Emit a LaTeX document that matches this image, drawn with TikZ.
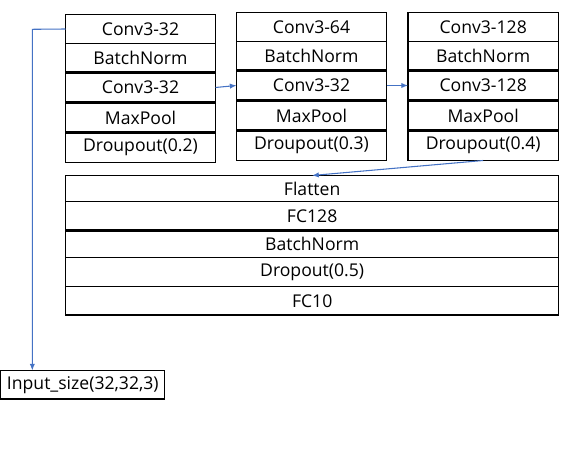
\documentclass[tikz,border=0pt]{standalone}
\usepackage{fontspec}
\setmainfont{Open Sans}
\usetikzlibrary{arrows.meta}
\definecolor{conn}{RGB}{68,114,196}
\begin{document}
\begin{tikzpicture}[x=0.75pt,y=-0.75pt,
  cell/.style={draw=black, line width=0.8pt, anchor=north west, inner sep=0pt, outer sep=0pt,
    minimum width=#1, font=\fontsize{13.2}{15}\selectfont},
  h29/.style={minimum height=21.75pt},
  h30/.style={minimum height=22.5pt},
  h26/.style={minimum height=19.5pt},
  h27/.style={minimum height=20.25pt},
  h28/.style={minimum height=21.4pt},
  thick line/.style={line width=1.6pt},
  conn line/.style={draw=conn, line width=0.8pt, -{Latex[length=5pt,width=4pt]}}]
\useasboundingbox (0,0) rectangle (576,452);
% block 1
\node[cell=112.5pt,h29] (a1) at (65.5,14.5) {Conv3-32};
\node[cell=112.5pt,h29] (a2) at (65.5,43.5) {BatchNorm};
\node[cell=112.5pt,h30] (a3) at (65.5,72.5) {Conv3-32};
\node[cell=112.5pt,h30] (a4) at (65.5,102.5) {MaxPool};
\node[cell=112.5pt,h30] (a5) at (65.5,132.5) {Droupout(0.2)};
% block 2
\node[cell=112.5pt,h29] (b1) at (236.5,12.5) {Conv3-64};
\node[cell=112.5pt,h29] (b2) at (236.5,41.5) {BatchNorm};
\node[cell=112.5pt,h30] (b3) at (236.5,70.5) {Conv3-32};
\node[cell=112.5pt,h30] (b4) at (236.5,100.5) {MaxPool};
\node[cell=112.5pt,h30] (b5) at (236.5,130.5) {Droupout(0.3)};
% block 3
\node[cell=112.75pt,h29] (c1) at (408,12.5) {Conv3-128};
\node[cell=112.75pt,h29] (c2) at (408,41.5) {BatchNorm};
\node[cell=112.75pt,h30] (c3) at (408,70.5) {Conv3-128};
\node[cell=112.75pt,h30] (c4) at (408,100.5) {MaxPool};
\node[cell=112.75pt,h30] (c5) at (408,130.5) {Droupout(0.4)};
% dense block
\node[cell=370pt,h26] (d1) at (65.5,175.5) {Flatten};
\node[cell=370pt,h29] (d2) at (65.5,201.5) {FC128};
\node[cell=370pt,h27] (d3) at (65.5,230.5) {BatchNorm};
\node[cell=370pt,h29] (d4) at (65.5,257.5) {Dropout(0.5)};
\node[cell=370pt,h28] (d5) at (65.5,286.5) {FC10};
% input
\node[cell=123pt,h28] (inp) at (0.8,370.5) {Input\_size(32,32,3)};
% thicker borders
\foreach \n in {a2,a3,a4,b2,b3,b4,c2,c3,c4,d2}
  \draw[thick line] (\n.south west) -- (\n.south east);
% connectors
\coordinate (bend) at (32.3,29.3);
\draw[conn line] (a1.west) -- (bend) -- (bend |- inp.north);
\draw[conn line] (a3.east) -- (b3.west);
\draw[conn line] (b3.east) -- (c3.west);
\draw[conn line] (c5.south) -- (d1.north);
\end{tikzpicture}
\end{document}
